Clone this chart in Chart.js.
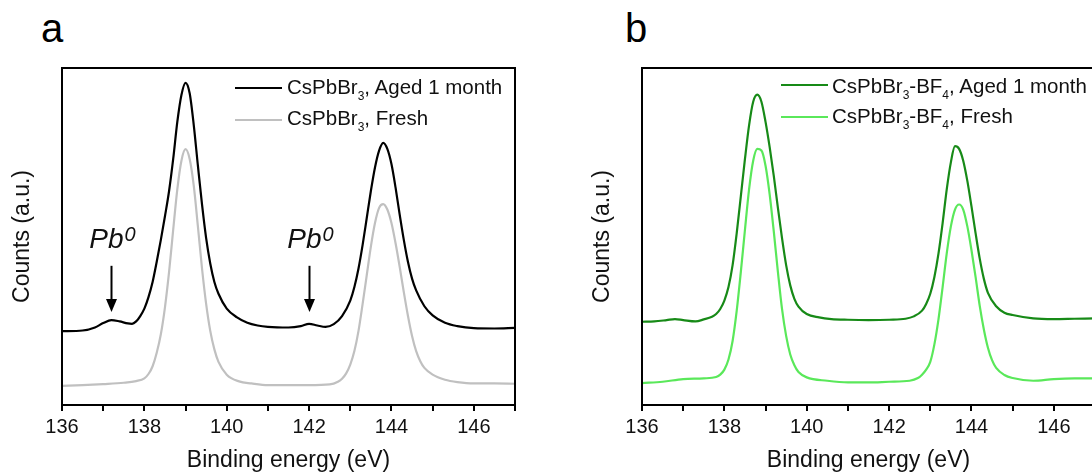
<!DOCTYPE html>
<html><head><meta charset="utf-8">
<script src="https://cdn.jsdelivr.net/npm/chart.js@4.4.1/dist/chart.umd.min.js"></script>
<style>
html,body{margin:0;padding:0;background:#fff;}
body{width:1092px;height:474px;overflow:hidden;position:relative;font-family:"Liberation Sans",Arial,sans-serif;color:#111;}
canvas{position:absolute;top:0;}
.lbl{position:absolute;font-size:40px;line-height:40px;color:#000;}
.lt{position:absolute;font-size:20.5px;line-height:20px;white-space:nowrap;color:#111;}
.lt sub{font-size:12px;vertical-align:-6px;line-height:0;}
.ln{position:absolute;width:47px;height:2px;}
</style></head>
<body>
<div class="lbl" style="left:41px;top:8px;">a</div>
<div class="lbl" style="left:625px;top:8px;">b</div>
<canvas id="ca" width="546" height="474" style="left:0px;"></canvas>
<canvas id="cb" width="546" height="474" style="left:580px;"></canvas>

<div class="ln" style="left:235px;top:87px;background:#000;"></div>
<div class="lt" style="left:287px;top:77px;">CsPbBr<sub>3</sub>, Aged 1 month</div>
<div class="ln" style="left:235px;top:119px;background:#c0c0c0;"></div>
<div class="lt" style="left:287px;top:108px;">CsPbBr<sub>3</sub>, Fresh</div>

<div class="ln" style="left:781px;top:84px;background:#178a17;"></div>
<div class="lt" style="left:832px;top:76px;">CsPbBr<sub>3</sub>-BF<sub>4</sub>, Aged 1 month</div>
<div class="ln" style="left:781px;top:116px;background:#5ae85a;"></div>
<div class="lt" style="left:832px;top:106px;">CsPbBr<sub>3</sub>-BF<sub>4</sub>, Fresh</div>

<script>
// ---- data (binding energy in eV, counts in arbitrary units) ----
const xTickLabels = [136, 138, 140, 142, 144, 146];

const aAgedX = [136,136.5,136.8,137,137.2,137.4,137.6,137.7,137.8,137.9,138,138.1,138.2,138.3,138.4,138.5,138.6,138.7,138.8,138.9,139,139.1,139.2,139.3,139.4,139.5,139.6,139.7,139.8,140,140.25,140.5,140.75,141,141.5,141.8,142,142.2,142.4,142.6,142.8,143,143.1,143.2,143.3,143.4,143.5,143.6,143.7,143.8,143.9,144,144.1,144.2,144.3,144.4,144.5,144.6,144.8,145,145.3,145.6,146,146.5,147];
const aAgedY = [21.9,22.1,23.0,24.3,25.2,24.8,24.2,24.1,24.8,26.4,28.6,32.0,36.5,42.5,49.0,56.0,63.5,73.0,84.0,92.0,95.6,92.5,83.0,71.0,59.5,49.5,42.0,36.5,33.0,28.6,26.0,24.4,23.6,23.2,23.0,23.4,24.1,23.6,23.2,24.0,26.4,31.0,35.0,40.5,47.5,55.5,63.5,70.5,75.5,77.8,76.0,71.5,64.5,56.5,49.0,42.5,37.5,34.0,29.3,26.6,24.4,23.4,22.8,22.7,22.9];

const aFreshX = [136,136.5,137,137.5,137.8,138,138.1,138.2,138.3,138.4,138.5,138.6,138.7,138.8,138.9,139,139.1,139.2,139.3,139.4,139.5,139.6,139.7,139.8,140,140.3,140.6,141,141.5,142,142.5,142.7,142.8,142.9,143,143.1,143.2,143.3,143.4,143.5,143.6,143.7,143.8,143.9,144,144.1,144.2,144.3,144.4,144.5,144.6,144.7,144.8,145,145.3,145.6,146,146.5,147];
const aFreshY = [5.7,5.9,6.2,6.6,7.1,7.9,9.2,11.5,15.5,21.0,29.0,39.5,52.0,64.0,72.5,75.9,73.0,65.0,53.0,40.5,30.0,22.0,16.5,12.8,9.0,7.0,6.4,5.9,5.9,5.9,6.1,6.9,7.8,9.4,12.0,16.0,22.0,30.0,38.5,47.0,54.0,58.5,59.6,58.0,54.0,48.0,41.0,33.5,26.5,20.5,16.0,13.0,11.0,9.0,7.5,6.8,6.4,6.4,6.3];

const bAgedX = [136,136.3,136.6,136.8,137,137.3,137.5,137.7,137.8,137.9,138,138.1,138.2,138.3,138.4,138.5,138.6,138.7,138.8,138.9,139,139.1,139.2,139.3,139.4,139.5,139.6,139.7,139.8,140,140.3,140.6,141,141.5,142,142.4,142.6,142.8,142.9,143,143.1,143.2,143.3,143.4,143.5,143.6,143.7,143.8,143.9,144,144.1,144.2,144.3,144.4,144.6,144.8,145,145.5,146,146.5,147];
const bAgedY = [24.7,24.8,25.2,25.5,25.2,24.8,25.4,26.2,27.0,28.5,31.0,35.0,41.5,51.0,62.0,73.0,83.0,90.0,92.1,90.0,84.0,76.5,68.0,58.5,49.5,41.5,35.5,31.5,29.2,27.0,26.0,25.5,25.3,25.2,25.3,25.6,26.3,28.0,30.0,33.0,38.0,45.0,54.0,64.0,72.0,76.8,76.0,72.5,66.5,59.0,51.0,43.5,37.5,33.3,29.3,27.4,26.7,25.7,25.5,25.6,25.7];

const bFreshX = [136,136.5,137,137.5,137.8,137.9,138,138.1,138.2,138.3,138.4,138.5,138.6,138.7,138.8,138.9,139,139.1,139.2,139.3,139.4,139.5,139.6,139.7,139.8,140,140.5,141,141.5,142,142.5,142.7,142.8,142.9,143,143.1,143.2,143.3,143.4,143.5,143.6,143.7,143.8,143.9,144,144.1,144.2,144.3,144.4,144.5,144.6,144.8,145,145.5,146,146.5,147];
const bFreshY = [6.5,6.9,7.7,7.9,8.3,9.0,10.5,13.5,19.0,28.0,39.5,52.0,64.0,72.5,76.0,75.5,71.0,62.5,51.5,39.5,28.5,20.5,15.0,11.8,9.8,8.2,7.2,6.7,6.7,6.9,7.2,8.0,9.0,10.5,12.8,18.0,25.5,35.0,45.0,53.0,58.0,59.5,58.0,53.0,46.0,38.0,29.5,22.5,17.0,13.3,11.0,8.9,8.0,7.2,7.7,7.9,7.9];

// Pb0 annotation (data coordinates)
const pbArrowX = [137.2, 142.0];
const pbArrowTop = 41.3;
const pbArrowTip = 27.6;
const pbLabelY = 46.6;

const FONT = '"Liberation Sans", Arial, sans-serif';
const pts = (xs, ys) => xs.map((x, i) => ({x: x, y: ys[i]}));

const framePlugin = {
  id: 'frame',
  afterDatasetsDraw(chart) {
    const {ctx, chartArea: {left, top, right, bottom}} = chart;
    ctx.save();
    ctx.strokeStyle = '#000';
    ctx.lineWidth = 2;
    ctx.strokeRect(left, top, right - left, bottom - top);
    ctx.restore();
  }
};

const pbPlugin = {
  id: 'pb0',
  afterDatasetsDraw(chart) {
    const {ctx, scales: {x, y}} = chart;
    ctx.save();
    pbArrowX.forEach(v => {
      const px = Math.round(x.getPixelForValue(v)) + 0.5;
      const yT = y.getPixelForValue(pbArrowTop);
      const yP = y.getPixelForValue(pbArrowTip);
      ctx.strokeStyle = '#000';
      ctx.fillStyle = '#000';
      ctx.lineWidth = 2;
      ctx.beginPath();
      ctx.moveTo(px, yT);
      ctx.lineTo(px, yP - 10);
      ctx.stroke();
      ctx.beginPath();
      ctx.moveTo(px, yP);
      ctx.lineTo(px - 5.5, yP - 13);
      ctx.lineTo(px + 5.5, yP - 13);
      ctx.closePath();
      ctx.fill();
      const by = y.getPixelForValue(pbLabelY);
      ctx.font = 'italic 28px ' + FONT;
      const w1 = ctx.measureText('Pb').width;
      ctx.font = 'italic 20px ' + FONT;
      const w2 = ctx.measureText('0').width;
      const sx = px + 1 - (w1 + w2 + 1) / 2;
      ctx.textBaseline = 'alphabetic';
      ctx.textAlign = 'left';
      ctx.fillStyle = '#111';
      ctx.font = 'italic 28px ' + FONT;
      ctx.fillText('Pb', sx, by);
      ctx.font = 'italic 20px ' + FONT;
      ctx.fillText('0', sx + w1 + 1, by - 6.5);
    });
    ctx.restore();
  }
};

function makeOptions() {
  return {
    responsive: false,
    animation: false,
    devicePixelRatio: 1,
    layout: {padding: {left: 0, top: 68, right: 31, bottom: 0}},
    plugins: {legend: {display: false}, tooltip: {enabled: false}},
    elements: {point: {radius: 0}, line: {borderWidth: 2.2, cubicInterpolationMode: 'monotone'}},
    scales: {
      x: {
        type: 'linear', min: 136, max: 147, position: 'bottom',
        ticks: {
          stepSize: 1, autoSkip: false, maxRotation: 0, minRotation: 0,
          padding: 4, color: '#111',
          font: {size: 20, family: FONT},
          callback: v => xTickLabels.includes(Math.round(v)) && Math.abs(v - Math.round(v)) < 1e-6 ? String(Math.round(v)) : ''
        },
        grid: {display: true, drawOnChartArea: false, drawTicks: true, tickLength: 6, lineWidth: 2, color: '#000'},
        border: {display: false},
        title: {display: true, text: 'Binding energy (eV)', color: '#111', font: {size: 23, family: FONT}, padding: {top: 0, bottom: 0}},
        afterFit: s => { s.height = 69; }
      },
      y: {
        type: 'linear', min: 0, max: 100, position: 'left',
        ticks: {display: false},
        grid: {display: false},
        border: {display: false},
        title: {display: true, text: 'Counts (a.u.)', color: '#111', font: {size: 23, family: FONT}, padding: {top: 9, bottom: 0}},
        afterFit: s => { s.width = 62; }
      }
    }
  };
}

new Chart(document.getElementById('ca'), {
  type: 'line',
  data: {datasets: [
    {label: 'CsPbBr3, Fresh', data: pts(aFreshX, aFreshY), borderColor: '#c0c0c0'},
    {label: 'CsPbBr3, Aged 1 month', data: pts(aAgedX, aAgedY), borderColor: '#000000'}
  ]},
  options: makeOptions(),
  plugins: [framePlugin, pbPlugin]
});

new Chart(document.getElementById('cb'), {
  type: 'line',
  data: {datasets: [
    {label: 'CsPbBr3-BF4, Fresh', data: pts(bFreshX, bFreshY), borderColor: '#5ae85a'},
    {label: 'CsPbBr3-BF4, Aged 1 month', data: pts(bAgedX, bAgedY), borderColor: '#178a17'}
  ]},
  options: makeOptions(),
  plugins: [framePlugin]
});
</script>
</body></html>
